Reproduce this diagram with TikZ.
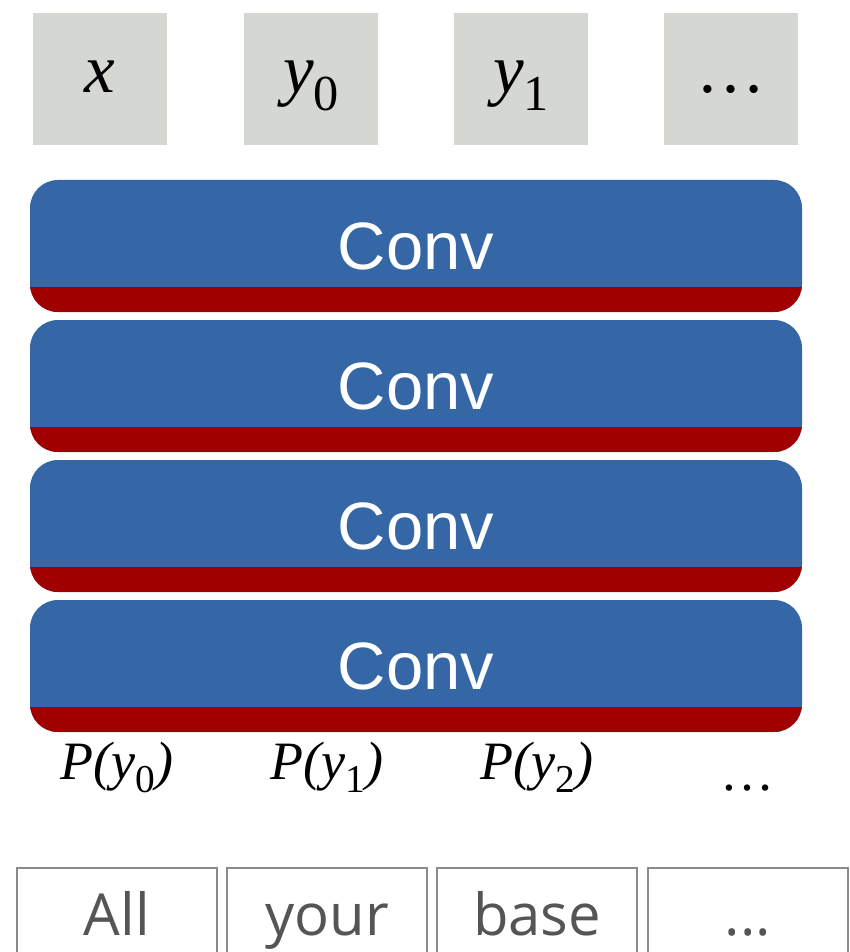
\documentclass[tikz,border=0pt]{standalone}
\usepackage{fontspec}
\setmainfont{Liberation Serif}
\newfontfamily\convfont{Liberation Sans}
\newfontfamily\handfont{Open Sans}
\definecolor{tokgray}{HTML}{D5D8D2}
\definecolor{convblue}{HTML}{3566A6}
\definecolor{convred}{HTML}{A00000}
\definecolor{wordgray}{HTML}{555555}
\definecolor{wordframe}{HTML}{8A8A8A}
\newcommand\lowsub[1]{\raisebox{-0.25em}{\scalebox{0.73}{\upshape #1}}}
\tikzset{
  tokbox/.style={fill=tokgray, inner sep=0pt, minimum width=134pt, minimum height=132pt,
    text height=40pt, text depth=12pt, font=\fontsize{69}{69}\selectfont\itshape},
  convbox/.style={fill=convblue, rounded corners=28pt, inner sep=0pt,
    minimum width=772pt, minimum height=132pt, text=white,
    font=\convfont\fontsize{67}{67}\selectfont,
    path picture={\fill[convred, sharp corners] (path picture bounding box.south west) rectangle ([yshift=25pt]path picture bounding box.south east);}},
  problabel/.style={anchor=base, inner sep=0pt, font=\fontsize{54}{54}\selectfont\itshape},
  wordbox/.style={draw=wordframe, line width=1.5pt, inner sep=0pt, minimum width=200pt, minimum height=100pt,
    text=wordgray, text height=46pt, text depth=12pt, font=\handfont\fontsize{58}{58}\selectfont}
}
\begin{document}
\begin{tikzpicture}[x=1pt,y=-1pt]
\useasboundingbox (0,0) rectangle (849,952);
\clip (0,0) rectangle (849,952);
% input tokens
\node[tokbox] (tx)  at (100,79) {x};
\node[tokbox] (ty0) at (311,79) {y\lowsub{0}};
\node[tokbox] (ty1) at (521,79) {y\lowsub{1}};
\node[tokbox] (tdots) at (731,79) {\upshape …};
% conv layers
\node[convbox] (c1) at (416,246) {Conv};
\node[convbox] (c2) at (416,386) {Conv};
\node[convbox] (c3) at (416,526) {Conv};
\node[convbox] (c4) at (416,666) {Conv};
% outputs
\node[problabel] (p0) at (117,779) {P(y\lowsub{0})};
\node[problabel] (p1) at (327,779) {P(y\lowsub{1})};
\node[problabel] (p2) at (537,779) {P(y\lowsub{2})};
\node[problabel] (pdots) at (747,790) {\upshape …};
% words
\node[wordbox] (w1) at (117,918) {All};
\node[wordbox] (w2) at (327,918) {your};
\node[wordbox] (w3) at (537,918) {base};
\node[wordbox] (w4) at (748,918) {...};
\end{tikzpicture}
\end{document}
